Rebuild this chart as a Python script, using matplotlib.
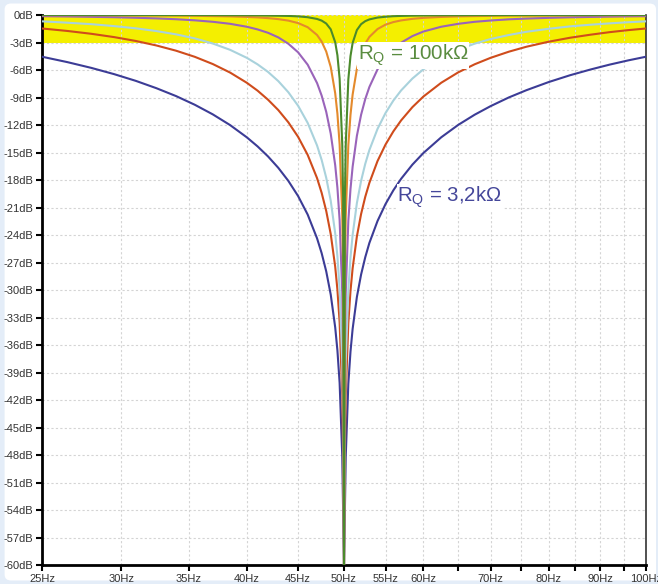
import matplotlib
matplotlib.use("Agg")
import matplotlib.pyplot as plt
from matplotlib.patches import FancyBboxPatch

plt.rcParams["font.family"] = ["Liberation Sans", "DejaVu Sans"]
plt.rcParams["mathtext.fontset"] = "custom"
plt.rcParams["mathtext.rm"] = "Liberation Sans"
plt.rcParams["mathtext.it"] = "Liberation Sans"

# frequency points (Hz) and attenuation (dB)
freq_hz = [25, 26.5, 28, 29.5, 31, 32.5, 34, 35.5, 37, 38.5,
           40, 41, 42, 43, 44, 45, 46, 47, 47.5, 48,
           48.5, 49, 49.25, 49.5, 49.8, 49.9, 50, 50.1, 50.2, 50.5,
           50.75, 51, 51.5, 52, 52.5, 53, 54, 55, 56, 57,
           58.5, 60, 62.5, 65, 67.5, 70, 73, 76, 80, 84,
           88, 92, 96, 100]

db_blue = [-4.55, -5.14, -5.77, -6.45, -7.18, -7.98, -8.84, -9.79, -10.84, -12.01,
           -13.34, -14.33, -15.43, -16.67, -18.09, -19.75, -21.77, -24.36, -25.98, -27.96,
           -30.5, -34.07, -36.59, -40.13, -48.12, -54.15, -60, -54.17, -48.15, -40.22,
           -36.72, -34.24, -30.76, -28.31, -26.42, -24.86, -22.47, -20.62, -19.12, -17.87,
           -16.32, -15.05, -13.34, -11.98, -10.87, -9.94, -8.99, -8.2, -7.31, -6.57,
           -5.95, -5.41, -4.95, -4.55]
db_red = [-1.47, -1.74, -2.05, -2.41, -2.83, -3.32, -3.89, -4.56, -5.35, -6.28,
          -7.39, -8.25, -9.24, -10.37, -11.7, -13.29, -15.26, -17.79, -19.4, -21.37,
          -23.9, -27.45, -29.97, -33.51, -41.5, -47.53, -60, -47.55, -41.53, -33.6,
          -30.1, -27.63, -24.16, -21.71, -19.83, -18.31, -15.93, -14.13, -12.69, -11.5,
          -10.05, -8.89, -7.39, -6.25, -5.37, -4.67, -4.0, -3.46, -2.91, -2.48,
          -2.15, -1.87, -1.65, -1.47]
db_lightblue = [-0.69, -0.84, -1.0, -1.21, -1.45, -1.75, -2.11, -2.55, -3.11, -3.8,
                -4.67, -5.38, -6.21, -7.21, -8.42, -9.9, -11.77, -14.23, -15.81, -17.75,
                -20.26, -23.81, -26.32, -29.86, -37.84, -43.87, -60, -43.89, -37.87, -29.95,
                -26.45, -23.98, -20.52, -18.09, -16.23, -14.73, -12.42, -10.69, -9.33, -8.23,
                -6.93, -5.92, -4.67, -3.78, -3.12, -2.62, -2.18, -1.83, -1.5, -1.24,
                -1.06, -0.91, -0.79, -0.69]
db_purple = [-0.13, -0.16, -0.2, -0.24, -0.3, -0.37, -0.46, -0.58, -0.74, -0.96,
             -1.28, -1.57, -1.94, -2.44, -3.13, -4.07, -5.42, -7.42, -8.79, -10.56,
             -12.94, -16.38, -18.85, -22.37, -30.33, -36.35, -60, -36.37, -30.36, -22.45,
             -18.98, -16.55, -13.18, -10.88, -9.17, -7.85, -5.93, -4.62, -3.7, -3.02,
             -2.3, -1.8, -1.28, -0.96, -0.74, -0.6, -0.47, -0.39, -0.31, -0.25,
             -0.21, -0.18, -0.15, -0.13]
db_orange = [-0.02, -0.02, -0.03, -0.04, -0.04, -0.05, -0.07, -0.09, -0.12, -0.15,
             -0.21, -0.26, -0.34, -0.45, -0.61, -0.88, -1.33, -2.18, -2.9, -3.98,
             -5.67, -8.53, -10.77, -14.11, -21.95, -27.96, -60, -27.98, -21.98, -14.19,
             -10.89, -8.68, -5.87, -4.19, -3.12, -2.39, -1.53, -1.05, -0.77, -0.59,
             -0.42, -0.31, -0.21, -0.15, -0.12, -0.09, -0.07, -0.06, -0.05, -0.04,
             -0.03, -0.03, -0.02, -0.02]
db_green = [0.0, 0.0, -0.01, -0.01, -0.01, -0.01, -0.01, -0.01, -0.02, -0.03,
            -0.03, -0.04, -0.06, -0.08, -0.1, -0.15, -0.24, -0.43, -0.61, -0.93,
            -1.56, -2.97, -4.39, -6.95, -14.13, -20.03, -60, -20.07, -14.17, -7.02,
            -4.48, -3.05, -1.64, -1.0, -0.67, -0.48, -0.28, -0.19, -0.13, -0.1,
            -0.07, -0.05, -0.03, -0.03, -0.02, -0.02, -0.01, -0.01, -0.01, -0.01,
            -0.01, 0.0, 0.0, 0.0]

x_ticks = [25, 30, 35, 40, 45, 50, 55, 60, 65, 70, 75, 80, 85, 90, 95, 100]
x_labels = ["25Hz", "30Hz", "35Hz", "40Hz", "45Hz", "50Hz", "55Hz", "60Hz", "",
            "70Hz", "", "80Hz", "", "90Hz", "", "100Hz"]
y_ticks = list(range(0, -61, -3))
y_labels = [f"{v}dB" for v in y_ticks]

fig = plt.figure(figsize=(6.58, 5.84), dpi=100)
fig.patch.set_facecolor("#e4edf8")
fig.patches.append(FancyBboxPatch((0.007, 0.006), 0.99, 0.988,
                                  boxstyle="round,pad=0,rounding_size=0.01",
                                  transform=fig.transFigure, facecolor="white",
                                  edgecolor="none", zorder=-10))

ax = fig.add_axes([0.0638, 0.0325, 0.918, 0.9418])
ax.set_facecolor("white")
ax.set_xscale("log")
ax.set_xlim(25, 100)
ax.set_ylim(-60, 0)

ax.axhspan(-3, 0, color="#f4ef00", zorder=0.5, lw=0)

curves = [
    (db_blue, "#3c3c96"),
    (db_red, "#cf4c1c"),
    (db_lightblue, "#a9d2dc"),
    (db_purple, "#9a64ba"),
    (db_orange, "#e48a2c"),
    (db_green, "#4b8a2c"),
]
for vals, col in curves:
    ax.plot(freq_hz, vals, color=col, lw=1.5, zorder=3, solid_joinstyle="round")

ax.set_xticks(x_ticks)
ax.set_xticklabels(x_labels)
ax.xaxis.set_minor_locator(matplotlib.ticker.NullLocator())
ax.set_yticks(y_ticks)
ax.set_yticklabels(y_labels)
ax.tick_params(axis="both", direction="out", length=4.5, width=1.5, colors="black",
               labelcolor="#333333", labelsize=8, pad=2)

ax.grid(True, color="#d4d4d4", linestyle=(0, (2, 2)), lw=0.8, zorder=1)
ax.set_axisbelow(True)

for side in ("left", "bottom"):
    ax.spines[side].set_linewidth(2)
    ax.spines[side].set_color("black")
ax.spines["right"].set_linewidth(1.2)
ax.spines["right"].set_color("#333333")
ax.spines["top"].set_visible(False)

box = dict(facecolor="white", edgecolor="none", pad=0.5)
ax.text(51.6, -4.9, r"R$_\mathrm{Q}$ = 100k$\Omega$", color="#5a8c40", fontsize=14.8,
        va="baseline", ha="left", zorder=4, bbox=box)
ax.text(56.5, -20.4, r"R$_\mathrm{Q}$ = 3,2k$\Omega$", color="#45479a", fontsize=14.7,
        va="baseline", ha="left", zorder=4, bbox=box)

fig.savefig("out.png", dpi=100)
